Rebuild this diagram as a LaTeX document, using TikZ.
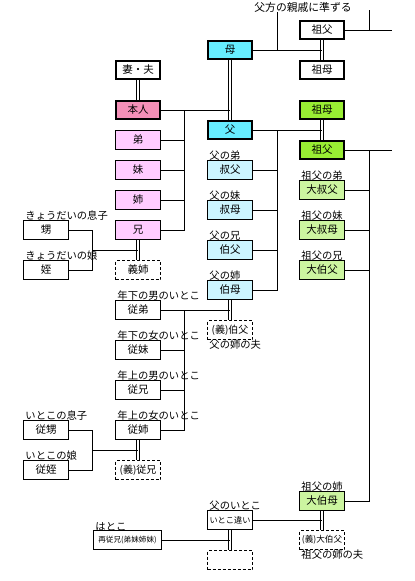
\documentclass[tikz,border=0pt]{standalone}
\usepackage{fontspec}
\setmainfont{Noto Sans CJK JP}
\usetikzlibrary{positioning}
\definecolor{selfpink}{HTML}{F490B8}
\definecolor{sibpink}{HTML}{FFCCFF}
\definecolor{parcyan}{HTML}{66EEFF}
\definecolor{unccyan}{HTML}{CCF5FF}
\definecolor{gpgreen}{HTML}{99EE33}
\definecolor{ggreen}{HTML}{CCF5A0}
\tikzset{
  kin/.style={draw, line width=1pt, minimum width=45pt, minimum height=19pt, inner sep=0pt, font=\fontsize{10.5}{11}\selectfont}, % every relative
  core/.style={kin, line width=2.4pt, minimum width=44pt, minimum height=18pt}, % bold frame for the near family
  inlaw/.style={kin, dash pattern=on 3pt off 2pt}, % related by marriage
  tag/.style={inner sep=0pt, font=\fontsize{10.3}{10}\selectfont}, % text written next to a box
  marry/.style={double, double distance=2pt, line width=0.8pt}, % a married couple
}

\begin{document}
\begin{tikzpicture}[x=1pt, y=-1pt, on grid, node distance=30pt, line width=0.9pt]
  \useasboundingbox (0,0) rectangle (415,581);

  % me and my brothers and sisters
  \node[core, fill=selfpink] (self) at (138,110) {本人};
  \node[core, above=40pt of self] (spouse) {妻・夫};
  \node[kin, fill=sibpink, below=of self] (brY) {弟};
  \node[kin, fill=sibpink, below=of brY] (sisY) {妹};
  \node[kin, fill=sibpink, below=of sisY] (sisO) {姉};
  \node[kin, fill=sibpink, below=of sisO] (brO) {兄};
  \node[inlaw, below=40pt of brO] (brO-sp) {義姉};
  \node[kin, left=92pt of brO] (nephew) {甥};
  \node[kin, left=92pt of brO-sp] (niece) {姪};

  % parents and grandparents
  \node[core, fill=parcyan] (mother) at (230,50) {母};
  \node[core, fill=parcyan, below=80pt of mother] (father) {父};
  \node[core] (mgf) at (322,30) {祖父};
  \node[core, below=40pt of mgf] (mgm) {祖母};
  \node[core, fill=gpgreen, below=40pt of mgm] (pgm) {祖母};
  \node[core, fill=gpgreen, below=40pt of pgm] (pgf) {祖父};
  \node[tag, font=\fontsize{10.8}{11}\selectfont] (note) at (303,7) {父方の親戚に準ずる};

  % uncles and aunts
  \node[kin, fill=unccyan, below=40pt of father] (uncY) {叔父};
  \node[kin, fill=unccyan, below=40pt of uncY] (auntY) {叔母};
  \node[kin, fill=unccyan, below=40pt of auntY] (uncO) {伯父};
  \node[kin, fill=unccyan, below=40pt of uncO] (auntO) {伯母};
  \node[inlaw, font=\fontsize{10}{10}\selectfont] (auntO-sp) [below=40pt of auntO] {(義)伯父};

  % great uncles and aunts
  \node[kin, fill=ggreen, below=40pt of pgf] (gunY) {大叔父};
  \node[kin, fill=ggreen, below=40pt of gunY] (gauntY) {大叔母};
  \node[kin, fill=ggreen, below=40pt of gauntY] (gunO) {大伯父};
  \node[kin, fill=ggreen] (gauntO) at (322,501) {大伯母};
  \node[inlaw, font=\fontsize{8.6}{9}\selectfont, below=39pt of gauntO] (gauntO-sp) {(義)大伯父};

  % cousins
  \node[kin] (couMY) at (138,310) {従弟};
  \node[kin, below=40pt of couMY] (couFY) {従妹};
  \node[kin, below=40pt of couFY] (couMO) {従兄};
  \node[kin, below=40pt of couMO] (couFO) {従姉};
  \node[inlaw, font=\fontsize{10}{10}\selectfont, below=40pt of couFO] (couFO-sp) {(義)従兄};
  \node[kin, left=92pt of couFO] (cnephew) {従甥};
  \node[kin, left=92pt of couFO-sp] (cniece) {従姪};

  % father's cousin and second cousin
  \node[kin, font=\fontsize{8.2}{8}\selectfont] (pcous) at (230,520) {いとこ違い};
  \node[inlaw, below=40pt of pcous] (pcous-ch) {};
  \node[kin, minimum width=68pt, font=\fontsize{7.6}{8}\selectfont] (hatoko) at (127.5,540) {再従兄(弟妹姉妹)};

  % texts over the boxes
  \node[tag, anchor=south west] (t-nephew) at ([xshift=2pt,yshift=-1pt]nephew.north west) {きょうだいの息子};
  \node[tag, anchor=south west] (t-niece) at ([xshift=2pt,yshift=-1pt]niece.north west) {きょうだいの娘};
  \node[tag, anchor=south west] (t-uncY) at ([xshift=2pt,yshift=-1pt]uncY.north west) {父の弟};
  \node[tag, anchor=south west] (t-auntY) at ([xshift=2pt,yshift=-1pt]auntY.north west) {父の妹};
  \node[tag, anchor=south west] (t-uncO) at ([xshift=2pt,yshift=-1pt]uncO.north west) {父の兄};
  \node[tag, anchor=south west] (t-auntO) at ([xshift=2pt,yshift=-1pt]auntO.north west) {父の姉};
  \node[tag, anchor=north west] (t-auntO-sp) at ([xshift=2pt,yshift=1pt]auntO-sp.south west) {父の姉の夫};
  \node[tag, anchor=south west] (t-gunY) at ([xshift=2pt,yshift=-1pt]gunY.north west) {祖父の弟};
  \node[tag, anchor=south west] (t-gauntY) at ([xshift=2pt,yshift=-1pt]gauntY.north west) {祖父の妹};
  \node[tag, anchor=south west] (t-gunO) at ([xshift=2pt,yshift=-1pt]gunO.north west) {祖父の兄};
  \node[tag, anchor=south west] (t-gauntO) at ([xshift=2pt,yshift=-1pt]gauntO.north west) {祖父の姉};
  \node[tag, anchor=north west] (t-gauntO-sp) at ([xshift=2pt,yshift=1pt]gauntO-sp.south west) {祖父の姉の夫};
  \node[tag, anchor=south west] (t-couMY) at ([xshift=2pt,yshift=-1pt]couMY.north west) {年下の男のいとこ};
  \node[tag, anchor=south west] (t-couFY) at ([xshift=2pt,yshift=-1pt]couFY.north west) {年下の女のいとこ};
  \node[tag, anchor=south west] (t-couMO) at ([xshift=2pt,yshift=-1pt]couMO.north west) {年上の男のいとこ};
  \node[tag, anchor=south west] (t-couFO) at ([xshift=2pt,yshift=-1pt]couFO.north west) {年上の女のいとこ};
  \node[tag, anchor=south west] (t-cnephew) at ([xshift=2pt,yshift=-1pt]cnephew.north west) {いとこの息子};
  \node[tag, anchor=south west] (t-cniece) at ([xshift=2pt,yshift=-1pt]cniece.north west) {いとこの娘};
  \node[tag, anchor=south west] (t-pcous) at ([xshift=2pt,yshift=-1pt]pcous.north west) {父のいとこ};
  \node[tag, anchor=south west] (t-hatoko) at ([xshift=2pt,yshift=-1pt]hatoko.north west) {はとこ};

  % marriages
  \draw[marry] (spouse) -- (self);
  \draw[marry] (mother) -- (father);
  \draw[marry] (mgf) -- (mgm);
  \draw[marry] (pgm) -- (pgf);
  \draw[marry] (brO) -- (brO-sp);
  \draw[marry] (auntO) -- (auntO-sp);
  \draw[marry] (couFO) -- (couFO-sp);
  \draw[marry] (gauntO) -- (gauntO-sp);
  \draw[marry] (pcous) -- (pcous-ch);

  % joints
  \coordinate (sibs) at (184,110);
  \coordinate (nephs) at (92,250);
  \coordinate (mnote) at (277,50);
  \coordinate (mgf-up) at (369,10);
  \coordinate (mgf-end) at (392,30);
  \coordinate (uncs) at (277,130);
  \coordinate (guns) at (369,150);
  \coordinate (pgf-end) at (392,150);
  \coordinate (cous) at (184,310);
  \coordinate (cnephs) at (92,450);

  % children lines
  \draw (self) -- (self -| mother);
  \draw (sibs) |- (brY);
  \draw (sibs) |- (sisY);
  \draw (sibs) |- (sisO);
  \draw (sibs) |- (brO);
  \draw (nephs) -- (nephs -| brO);
  \draw (nephs) |- (nephew);
  \draw (nephs) |- (niece);

  \draw (mother) -- (mother -| mgf);
  \draw (mnote) -- (mnote |- note.south);
  \draw (mgf) -- (mgf-end);
  \draw (mgf-up) -- (mgf-up |- mgf);

  \draw (father) -- (father -| pgf);
  \draw (uncs) |- (uncY);
  \draw (uncs) |- (auntY);
  \draw (uncs) |- (uncO);
  \draw (uncs) |- (auntO);

  \draw (pgf) -- (pgf-end);
  \draw (guns) |- (gunY);
  \draw (guns) |- (gauntY);
  \draw (guns) |- (gunO);
  \draw (guns) |- (gauntO);

  \draw (cous) -- (cous -| auntO);
  \draw (cous) -- (couMY);
  \draw (cous) |- (couFY);
  \draw (cous) |- (couMO);
  \draw (cous) |- (couFO);
  \draw (cnephs) -- (cnephs -| couFO);
  \draw (cnephs) |- (cnephew);
  \draw (cnephs) |- (cniece);

  \draw (pcous) -- (pcous -| gauntO);
  \draw (hatoko) -- (hatoko -| pcous);
\end{tikzpicture}
\end{document}
